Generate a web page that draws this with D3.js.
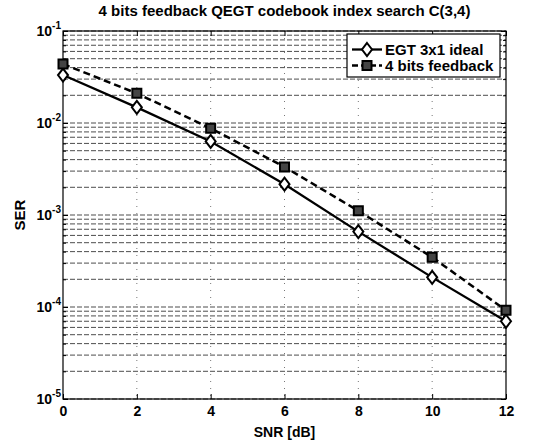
<!DOCTYPE html>
<html>
<head>
<meta charset="utf-8">
<script src="https://cdn.jsdelivr.net/npm/d3@7"></script>
<style>
  body { margin: 0; background: #fff; }
  svg text { font-family: Arial, "Liberation Sans", Helvetica, sans-serif; font-weight: bold; fill: #000; }
</style>
</head>
<body>
<div id="vis"></div>
<script>
// values
const snr = [0, 2, 4, 6, 8, 10, 12]
const serIdeal = [0.0332, 0.0148, 0.0063, 0.00216, 0.00066, 0.00021, 0.00007]
const serFb4 = [0.0438, 0.0210, 0.00875, 0.00333, 0.00111, 0.000347, 0.000092]
const seriesNames = ['EGT 3x1 ideal', '4 bits feedback']
const decades = [1e-5, 1e-4, 1e-3, 1e-2, 1e-1]
const decadeLabels = ['-5', '-4', '-3', '-2', '-1']

const W = 548, H = 441
const margin = {left: 63, top: 31, right: 42, bottom: 42}

let svg = d3.select('#vis').append('svg')
    .attr('width', W)
    .attr('height', H)

let x = d3.scaleLinear([0, 12], [margin.left, W - margin.right])
let y = d3.scaleLog([1e-5, 1e-1], [H - margin.bottom, margin.top])

// minor values for the log grid
let minors = []
decades.slice(0, 4).forEach(d => {
    for (let k = 2; k <= 9; k++) minors.push(d * k)
})

// grid
svg.append('g').selectAll('line')
    .data(decades.concat(minors))
    .enter().append('line')
        .attr('x1', margin.left).attr('x2', W - margin.right)
        .attr('y1', d => y(d)).attr('y2', d => y(d))
        .attr('stroke', '#222')
        .attr('stroke-width', 1)
        .attr('stroke-dasharray', '5,2')
        .attr('opacity', 0.8)

svg.append('g').selectAll('line')
    .data(snr.slice(1, -1))
    .enter().append('line')
        .attr('x1', d => x(d)).attr('x2', d => x(d))
        .attr('y1', margin.top).attr('y2', H - margin.bottom)
        .attr('stroke', '#777')
        .attr('stroke-dasharray', '1,6')

// axes
let xAxis = d3.axisBottom(x).tickValues(snr).tickSizeInner(-5).tickSizeOuter(0).tickPadding(6)
svg.append('g')
    .attr('transform', `translate(0,${H - margin.bottom})`)
    .call(xAxis)
    .call(g => g.selectAll('text').attr('font-size', 14).attr('dy', '0.8em'))

svg.append('g')
    .attr('transform', `translate(0,${margin.top})`)
    .call(d3.axisTop(x).tickValues(snr).tickSizeInner(-5).tickSizeOuter(0).tickFormat(''))

let yAxis = d3.axisLeft(y).tickValues(decades).tickSizeInner(-5).tickSizeOuter(0).tickFormat('')
svg.append('g')
    .attr('transform', `translate(${margin.left},0)`)
    .call(yAxis)
svg.append('g')
    .attr('transform', `translate(${margin.left},0)`)
    .call(d3.axisLeft(y).tickValues(minors).tickSizeInner(-3).tickSizeOuter(0).tickFormat(''))
svg.append('g')
    .attr('transform', `translate(${W - margin.right},0)`)
    .call(d3.axisRight(y).tickValues(decades).tickSizeInner(-5).tickSizeOuter(0).tickFormat(''))
svg.append('g')
    .attr('transform', `translate(${W - margin.right},0)`)
    .call(d3.axisRight(y).tickValues(minors).tickSizeInner(-3).tickSizeOuter(0).tickFormat(''))

svg.selectAll('.domain').remove()

// y tick labels 10^n
let ylab = svg.append('g').selectAll('text')
    .data(decades)
    .enter().append('text')
        .attr('x', margin.left - 2)
        .attr('y', d => y(d) + 5)
        .attr('text-anchor', 'end')
ylab.append('tspan').attr('font-size', 14).text('10')
ylab.append('tspan').attr('font-size', 10).attr('dy', -7).text((d, i) => decadeLabels[i])

// box
svg.append('rect')
    .attr('x', margin.left).attr('y', margin.top)
    .attr('width', W - margin.left - margin.right)
    .attr('height', H - margin.top - margin.bottom)
    .attr('fill', 'none')
    .attr('stroke', '#000')
    .attr('stroke-width', 1.2)

// lines
let line = d3.line().x((d, i) => x(snr[i])).y(d => y(d))

svg.append('path')
    .datum(serIdeal)
    .attr('d', line)
    .attr('fill', 'none')
    .attr('stroke', '#000')
    .attr('stroke-width', 2.3)

svg.append('path')
    .datum(serFb4)
    .attr('d', line)
    .attr('fill', 'none')
    .attr('stroke', '#000')
    .attr('stroke-width', 2.5)
    .attr('stroke-dasharray', '7,4')

function diamond(sel){
    sel.attr('d', 'M0,-6.5L5,0L0,6.5L-5,0Z')
        .attr('fill', '#fff')
        .attr('stroke', '#000')
        .attr('stroke-width', 2)
}
function square(sel){
    sel.attr('d', 'M-4.5,-4.5H4.5V4.5H-4.5Z')
        .attr('fill', '#444')
        .attr('stroke', '#000')
        .attr('stroke-width', 2)
}

svg.append('g').selectAll('path')
    .data(serIdeal).enter().append('path')
        .attr('transform', (d, i) => `translate(${x(snr[i])},${y(d)})`)
        .call(diamond)

svg.append('g').selectAll('path')
    .data(serFb4).enter().append('path')
        .attr('transform', (d, i) => `translate(${x(snr[i])},${y(d)})`)
        .call(square)

// legend
let lg = svg.append('g').attr('transform', 'translate(347,34)')
lg.append('rect')
    .attr('width', 153).attr('height', 43)
    .attr('fill', '#fff').attr('stroke', '#000').attr('stroke-width', 1.2)

lg.append('line').attr('x1', 5).attr('x2', 35).attr('y1', 15.5).attr('y2', 15.5)
    .attr('stroke', '#000').attr('stroke-width', 2.3)
lg.append('path').attr('transform', 'translate(20,15.5)').call(diamond)
lg.append('line').attr('x1', 5).attr('x2', 35).attr('y1', 31.5).attr('y2', 31.5)
    .attr('stroke', '#000').attr('stroke-width', 2.5).attr('stroke-dasharray', '6,3')
lg.append('path').attr('transform', 'translate(20,31.5)').call(square)

lg.selectAll('.lg-text')
    .data(seriesNames).enter()
    .append('text')
        .attr('class', 'lg-text')
        .attr('x', 38)
        .attr('y', (d, i) => 21 + i * 16)
        .attr('font-size', 15)
        .text(d => d)

// title and axis labels
let cx = (margin.left + W - margin.right) / 2
svg.append('text')
    .attr('x', cx).attr('y', 16)
    .attr('text-anchor', 'middle')
    .attr('font-size', 15)
    .text('4 bits feedback QEGT codebook index search C(3,4)')

svg.append('text')
    .attr('x', cx).attr('y', 437)
    .attr('text-anchor', 'middle')
    .attr('font-size', 14)
    .text('SNR [dB]')

svg.append('text')
    .attr('transform', `translate(25,${(margin.top + H - margin.bottom) / 2}) rotate(-90)`)
    .attr('text-anchor', 'middle')
    .attr('font-size', 15)
    .text('SER')
</script>
</body>
</html>
